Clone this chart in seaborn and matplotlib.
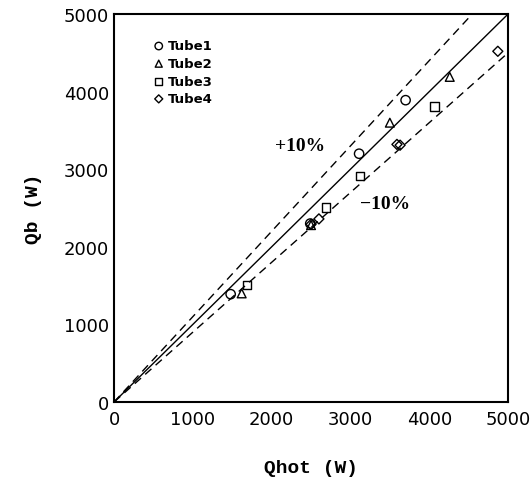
import numpy as np
import pandas as pd
import matplotlib
matplotlib.use("Agg")
import matplotlib.pyplot as plt
import seaborn as sns

# Data
tube1_qhot = [1480, 2490, 3110, 3700]
tube1_qb = [1390, 2300, 3200, 3890]
tube2_qhot = [1620, 2500, 3500, 4260]
tube2_qb = [1400, 2280, 3600, 4190]
tube3_qhot = [1690, 2690, 3120, 4070]
tube3_qb = [1510, 2510, 2910, 3810]
tube4_qhot = [2500, 2600, 3590, 3630, 4870]
tube4_qb = [2290, 2360, 3320, 3310, 4520]

line_x = [0, 5000]
ticks = [0, 1000, 2000, 3000, 4000, 5000]

sns.set_theme(style="white")
plt.rcParams['font.family'] = ['DejaVu Sans']
plt.rcParams['text.color'] = 'black'
plt.rcParams['axes.labelcolor'] = 'black'
plt.rcParams['xtick.color'] = 'black'
plt.rcParams['ytick.color'] = 'black'

fig = plt.figure(figsize=(5.32, 4.85), dpi=100)
ax = fig.add_axes([0.2143, 0.169, 0.7407, 0.8])

# reference lines
lx = np.array(line_x, dtype=float)
sns.lineplot(x=lx, y=lx, ax=ax, color='black', lw=1.0)
sns.lineplot(x=lx, y=1.1 * lx, ax=ax, color='black', lw=1.0, linestyle=(0, (6, 4)))
sns.lineplot(x=lx, y=0.9 * lx, ax=ax, color='black', lw=1.0, linestyle=(0, (6, 4)))

series = [
    ("Tube1", tube1_qhot, tube1_qb, "o", 45),
    ("Tube2", tube2_qhot, tube2_qb, "^", 40),
    ("Tube3", tube3_qhot, tube3_qb, "s", 38),
    ("Tube4", tube4_qhot, tube4_qb, "D", 26),
]
for name, xs, ys, m, s in series:
    sns.scatterplot(x=xs, y=ys, ax=ax, marker=m, s=s, facecolors='none',
                    edgecolor='black', linewidth=1.0, label=name)

ax.set_xlim(0, 5000)
ax.set_ylim(0, 5000)
ax.set_xticks(ticks)
ax.set_yticks(ticks)
ax.tick_params(direction='in', length=6, width=1.2, labelsize=13, colors='black')
ax.tick_params(axis='x', pad=6)
for sp in ax.spines.values():
    sp.set_color('black')
    sp.set_linewidth(1.5)

ax.set_xlabel("Qhot (W)", family='Liberation Mono', fontweight='bold', fontsize=14,
              labelpad=22, color='black')
ax.set_ylabel("Qb (W)", family='Liberation Mono', fontweight='bold', fontsize=14,
              labelpad=16, color='black')

ax.text(2360, 3310, "+10%", family='Liberation Serif', fontweight='bold', fontsize=14,
        ha='center', va='center', color='black')
ax.text(3440, 2560, "\u221210%", family='Liberation Serif', fontweight='bold', fontsize=14,
        ha='center', va='center', color='black')

leg = ax.legend(loc='upper left', bbox_to_anchor=(0.07, 0.965), frameon=False,
                handletextpad=0.3, labelspacing=0.35, handlelength=0.8,
                markerscale=0.8,
                prop={'family': 'DejaVu Sans', 'weight': 'bold', 'size': 9.5})
for t in leg.get_texts():
    t.set_color('black')

fig.savefig("out.png", dpi=100)
